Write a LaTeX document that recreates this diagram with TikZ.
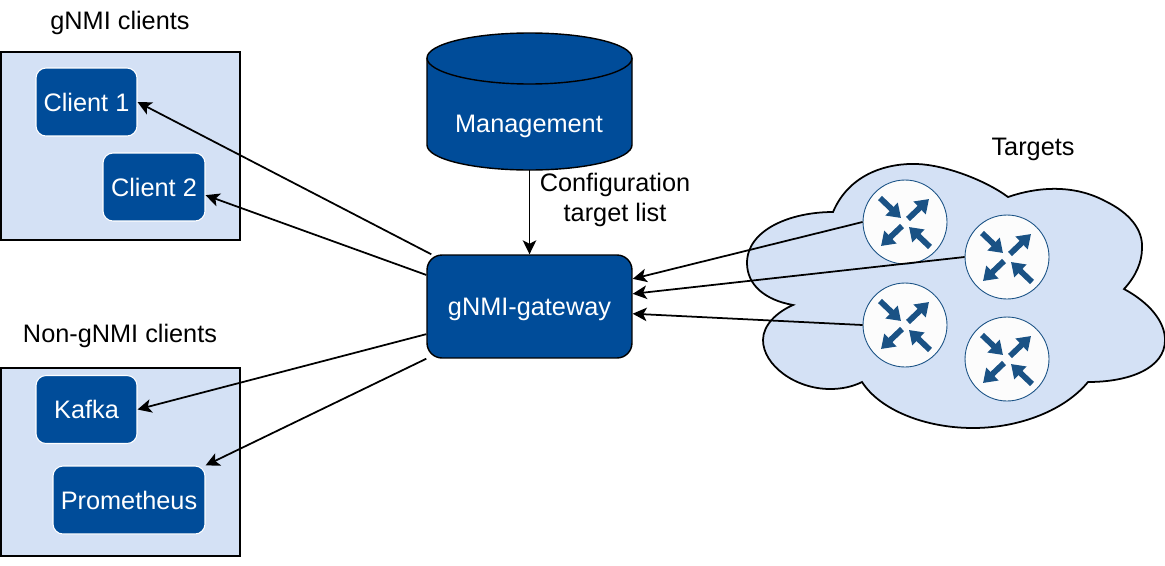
\documentclass[tikz,border=0pt]{standalone}
\usepackage{fontspec}
\setmainfont{Liberation Sans}
\usetikzlibrary{arrows.meta}
\definecolor{navy}{HTML}{004C99}
\definecolor{pale}{HTML}{D4E1F5}
\definecolor{icon}{HTML}{1A5285}
\tikzset{
  panelbox/.style={draw, fill=pale, line width=1pt, minimum width=4.78cm, minimum height=3.76cm},
  clientbox/.style={draw=white, fill=navy, text=white, rounded corners=0.2cm, line width=0.6pt, minimum height=1.36cm},
  routernode/.style={draw=icon, fill=white!99!black, circle, line width=0.5pt, minimum size=1.68cm, inner sep=0pt},
  link/.style={->, line width=1pt},
  flow/.style={line width=0.115cm, icon, -{Triangle[length=0.26cm, width=0.34cm]}},
  routericon/.pic={
    \draw[flow] (-25,-24) -- (-4,-4);
    \draw[flow] (3,-3) -- (24,-23);
    \draw[flow] (-3,4) -- (-24,24);
    \draw[flow] (25,25) -- (4,5);
  }
}
\begin{document}
\begin{tikzpicture}[x=0.02cm, y=-0.02cm, >={Stealth[length=0.28cm, width=0.27cm, inset=0.07cm]},
  font=\fontsize{14.4}{16.6}\selectfont]
\useasboundingbox (0,0) rectangle (1165,565);

\node[panelbox] (gnmipanel) at (120.5,146) {};
\node[panelbox] (otherpanel) at (120.5,462) {};
\node (gnmilabel) at (120,22.5) {gNMI clients};
\node (otherlabel) at (120,336) {Non-gNMI clients};

\node[clientbox, minimum width=2.02cm] (c1) at (86.5,102) {Client 1};
\node[clientbox, minimum width=2.04cm] (c2) at (154,187) {Client 2};
\node[clientbox, minimum width=2.02cm] (kafka) at (86.5,409.5) {Kafka};
\node[clientbox, minimum width=3.04cm] (prom) at (129,500) {Prometheus};

% management store
\draw[fill=navy, line width=0.8pt] (427,58)
  .. controls (427,44) and (473,33) .. (529.5,33)
  .. controls (586,33) and (632,44) .. (632,58)
  -- (632,145)
  .. controls (632,159) and (586,170) .. (529.5,170)
  .. controls (473,170) and (427,159) .. (427,145) -- cycle;
\draw[line width=0.8pt] (427,58)
  .. controls (427,72) and (473,84) .. (529.5,84)
  .. controls (586,84) and (632,72) .. (632,58);
\node[minimum width=4.1cm, minimum height=2.74cm] (mgmt) at (529.5,101.5) {};
\node[text=white] (mgmtlabel) at (529,126.5) {Management};
\node[draw, fill=navy, text=white, rounded corners=0.3cm, line width=0.8pt, text depth=0pt,
  minimum width=4.1cm, minimum height=2.06cm] (gw) at (529.5,306.5) {gNMI-gateway};
\node[align=center] (conflabel) at (615,200) {Configuration\\target list};

% cloud of targets
\draw[fill=pale, line width=1pt] (833,212)
  .. controls (850,172) and (890,163) .. (917,164)
  .. controls (945,165) and (985,180) .. (1008,197)
  .. controls (1040,186) and (1075,185) .. (1105,201)
  .. controls (1130,213) and (1143,230) .. (1142,248)
  .. controls (1142,262) and (1136,276) .. (1124,289)
  .. controls (1150,303) and (1165,322) .. (1165,340)
  .. controls (1165,368) and (1130,382) .. (1088,382)
  .. controls (1065,410) and (1020,428) .. (973,428)
  .. controls (925,428) and (880,410) .. (862,382)
  .. controls (852,387) and (841,389) .. (830,389)
  .. controls (795,389) and (763,365) .. (763,340)
  .. controls (763,325) and (777,312) .. (793,305)
  .. controls (765,300) and (747,285) .. (747,263)
  .. controls (747,230) and (790,212) .. (833,212) -- cycle;
\node (targetlabel) at (1033,149) {Targets};

\node[routernode] (r1) at (905,222) {};
\node[routernode] (r2) at (1007,257) {};
\node[routernode] (r3) at (905,325) {};
\node[routernode] (r4) at (1007,359) {};
\pic at (r1) {routericon};
\pic at (r2) {routericon};
\pic at (r3) {routericon};
\pic at (r4) {routericon};

\draw[link] (mgmt.south) to (gw.north);
\draw[link] (gw.152) to (c1.east);
\draw[link] (gw.163) to (c2.-9);
\draw[link] (gw.195) to (kafka.east);
\draw[link] (gw.south west) to (prom.north east);
\draw[link] (r1.west) to (gw.15);
\draw[link] (r2.west) to (gw.7);
\draw[link] (r3.west) to (gw.-4);
\end{tikzpicture}
\end{document}
